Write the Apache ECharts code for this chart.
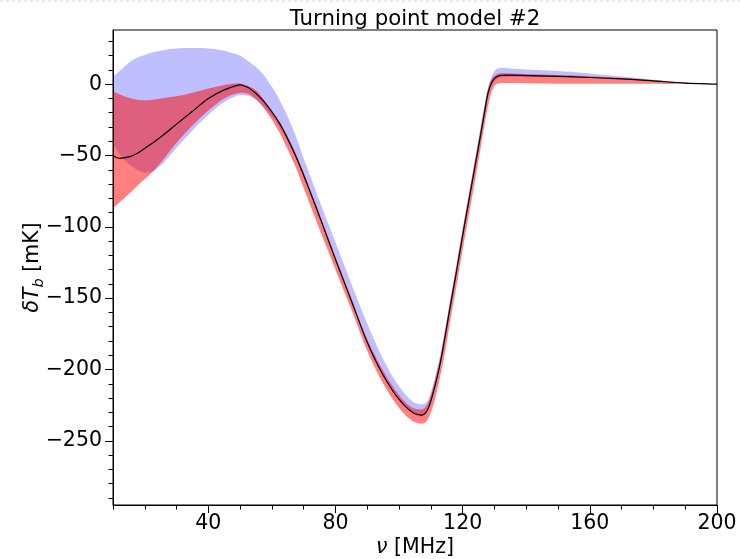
<!DOCTYPE html>
<html>
<head>
<meta charset="utf-8">
<script src="https://cdn.jsdelivr.net/npm/echarts@6/dist/echarts.min.js"></script>
<style>html,body{margin:0;padding:0;background:#fff;}#c{width:740px;height:559px;}</style>
</head>
<body>
<div id="c"></div>
<script>
const titleText = 'Turning point model #2';
const freq = [10,12,15,18,20,22,25,30,35,40,45,48,50,52,55,57,60,62.4,65,67.6,70,75,80,85,90,95,100,103,105,107,108,109,110,111,112,113,114,116,118,120,122,124,126,127,128,129,130,131,132,135,140,150,160,170,180,190,200];
const blueUpper = [5,9,15,19,20.5,22,23.5,25,25.3,25,23.5,21.5,20,17,12,7.5,-2,-11,-23,-37,-52,-82,-111,-140,-168,-193,-212,-220,-223.5,-224.5,-224,-222,-216,-208,-199,-189,-177,-152,-127,-101,-76,-51,-25,-13,-2,5,9,11,11.5,11,10.3,9.2,7.5,5.4,3.2,1.2,0];
const blueLower = [-42,-49,-56,-60.5,-62,-61.5,-57,-44.5,-32.5,-21.5,-12.5,-9,-7.5,-8,-11,-15,-22.5,-30,-40,-52,-65,-93,-123,-152,-181,-204,-221,-228,-231.5,-233,-232,-229,-223,-215,-206,-196,-185,-159,-134,-108,-83,-58,-33,-20,-8,-1.5,2.5,4.2,5,5.3,5.3,5,4.3,3.4,2,0.6,0];
const redUpper = [-5,-7,-9.5,-11,-11.2,-11,-10,-8.5,-6,-3,-0.5,0.5,0.5,-0.8,-4.5,-9.5,-18.5,-26.5,-37,-49,-62,-91,-121,-150,-179,-201,-218,-225,-227.5,-228,-227,-224,-218,-210,-201,-191,-179,-153,-128,-102,-77,-52,-27,-14,-3,3,6,7.2,7.6,7.5,7.2,6.5,5.6,4.3,2.7,1,0];
const redLower = [-87,-83,-77,-70.5,-66.5,-62.5,-55,-41,-29,-18.5,-10,-7,-6,-6.5,-10.5,-15.5,-25,-34,-46,-59,-73,-102,-130,-158,-187,-210,-227,-234,-237,-238,-237.5,-235,-230,-223,-214,-204,-193,-167,-142,-116,-91,-66,-40,-27,-15,-6,-1,0.5,0.8,0.8,0.6,0.4,0.4,0.4,0.3,0.1,0];
const model = [-50,-52,-51,-48,-45,-42,-37,-28,-19,-10,-4,-1.5,-0.5,-1.8,-6.5,-11,-19.5,-27.5,-38.5,-51,-64,-93,-123,-152,-181,-204,-221,-228,-231,-232,-231,-228,-222,-214,-205,-195,-183,-157,-132,-106,-81,-56,-31,-18,-6,0.5,4,5.5,6.2,6.3,6.0,5.5,4.7,3.7,2.3,0.8,0];
const xMajorTicks = [40,80,120,160,200];
const xMinorTicks = [10,20,30,50,60,70,90,100,110,130,140,150,170,180,190];
const yMajorTicks = [-250,-200,-150,-100,-50,0];
const yMinorTicks = [-290,-280,-270,-260,-240,-230,-220,-210,-190,-180,-170,-160,-140,-130,-120,-110,-90,-80,-70,-60,-40,-30,-20,-10,10,20,30];

const FF = 'DejaVu Sans';
const FS = 20.5;
const minus = v => (v < 0 ? '\u2212' + Math.abs(v) : String(v));

// Monotone cubic (Fritsch-Carlson) path through pixel points (x increasing)
function monoSegs(pts) {
  const n = pts.length;
  const d = [], m = new Array(n);
  for (let i = 0; i < n - 1; i++) {
    const dx = pts[i + 1][0] - pts[i][0];
    d.push(dx === 0 ? 0 : (pts[i + 1][1] - pts[i][1]) / dx);
  }
  m[0] = d[0]; m[n - 1] = d[n - 2];
  for (let i = 1; i < n - 1; i++) {
    if (d[i - 1] * d[i] <= 0) m[i] = 0;
    else {
      const h0 = pts[i][0] - pts[i - 1][0], h1 = pts[i + 1][0] - pts[i][0];
      const w1 = 2 * h1 + h0, w2 = h1 + 2 * h0;
      m[i] = (w1 + w2) / (w1 / d[i - 1] + w2 / d[i]);
    }
  }
  const segs = [];
  for (let i = 0; i < n - 1; i++) {
    const h = pts[i + 1][0] - pts[i][0];
    segs.push([
      [pts[i][0] + h / 3, pts[i][1] + m[i] * h / 3],
      [pts[i + 1][0] - h / 3, pts[i + 1][1] - m[i + 1] * h / 3],
      pts[i + 1]
    ]);
  }
  return segs;
}
const f = v => v.toFixed(2);
function pathForward(pts, start) {
  let s = (start ? 'M' : 'L') + f(pts[0][0]) + ' ' + f(pts[0][1]);
  monoSegs(pts).forEach(sg => { s += ' C' + f(sg[0][0]) + ' ' + f(sg[0][1]) + ' ' + f(sg[1][0]) + ' ' + f(sg[1][1]) + ' ' + f(sg[2][0]) + ' ' + f(sg[2][1]); });
  return s;
}
function pathBackward(pts) {
  const segs = monoSegs(pts);
  const n = pts.length;
  let s = 'L' + f(pts[n - 1][0]) + ' ' + f(pts[n - 1][1]);
  for (let i = segs.length - 1; i >= 0; i--) {
    const sg = segs[i];
    s += ' C' + f(sg[1][0]) + ' ' + f(sg[1][1]) + ' ' + f(sg[0][0]) + ' ' + f(sg[0][1]) + ' ' + f(pts[i][0]) + ' ' + f(pts[i][1]);
  }
  return s;
}

function bandSeries(name, lo, hi, color, z) {
  return {
    type: 'custom', name: name, z: z, clip: true, silent: true,
    data: freq.map((x, i) => [x, lo[i], hi[i]]),
    encode: {x: 0, y: [1, 2]},
    renderItem: function (params, api) {
      if (params.dataIndex !== 0) return null;
      const n = params.dataInsideLength;
      const up = [], dn = [];
      for (let i = 0; i < n; i++) {
        const x = api.value(0, i);
        up.push(api.coord([x, api.value(2, i)]));
        dn.push(api.coord([x, api.value(1, i)]));
      }
      const pathData = pathForward(up, true) + ' ' + pathBackward(dn) + ' Z';
      return {type: 'path', shape: {pathData: pathData}, style: {fill: color, stroke: null}};
    }
  };
}

const chart = echarts.init(document.getElementById('c'), null, {renderer: 'canvas'});
chart.setOption({
  animation: false,
  backgroundColor: '#fff',
  grid: {left: 113, right: 23, top: 30, bottom: 54, containLabel: false, outerBoundsMode: 'none', show: true, borderColor: '#000', borderWidth: 1, backgroundColor: 'transparent', z: 10},
  graphic: [
    {type: 'line', shape: {x1: 0, y1: 1, x2: 740, y2: 1}, style: {stroke: '#d4d4d4', lineWidth: 1, lineDash: [3, 3]}, silent: true},
    {type: 'text', x: 415, y: 9, style: {text: titleText, fill: '#000', font: '21.3px "' + FF + '"', textAlign: 'center', textVerticalAlign: 'top'}}
  ],
  xAxis: [
    {
      type: 'value', min: 10, max: 200, position: 'bottom',
      axisLine: {show: true, onZero: false, lineStyle: {color: '#000', width: 1}},
      axisTick: {show: true, inside: false, length: 8, customValues: xMajorTicks, lineStyle: {color: '#000', width: 1}},
      axisLabel: {customValues: xMajorTicks, color: '#000', fontSize: FS, fontFamily: FF, margin: 8, formatter: minus},
      splitLine: {show: false},
      name: '{i|\u03BD}{n| [MHz]}', nameLocation: 'middle', nameGap: 32, nameMoveOverlap: false,
      nameTextStyle: {color: '#000', fontFamily: FF, fontSize: FS, verticalAlign: 'top',
        rich: {i: {fontStyle: 'italic', fontFamily: FF, fontSize: FS, color: '#000'}, n: {fontFamily: FF, fontSize: FS, color: '#000'}}}
    },
    {
      type: 'value', min: 10, max: 200, position: 'bottom',
      axisLine: {show: false, onZero: false},
      axisTick: {show: true, inside: false, length: 4.5, customValues: xMinorTicks, lineStyle: {color: '#000', width: 1}},
      axisLabel: {show: false}, splitLine: {show: false}
    }
  ],
  yAxis: [
    {
      type: 'value', min: -295, max: 38, position: 'left',
      axisLine: {show: true, onZero: false, lineStyle: {color: '#000', width: 1}},
      axisTick: {show: true, inside: false, length: 8, customValues: yMajorTicks, lineStyle: {color: '#000', width: 1}},
      axisLabel: {customValues: yMajorTicks, color: '#000', fontSize: FS, fontFamily: FF, margin: 11, formatter: minus},
      splitLine: {show: false},
      name: '{i|\u03B4T}{s|b}{n| [mK]}', nameLocation: 'middle', nameGap: 66, nameRotate: 90, nameMoveOverlap: false,
      nameTextStyle: {color: '#000', fontFamily: FF, fontSize: FS,
        rich: {
          i: {fontStyle: 'italic', fontFamily: FF, fontSize: FS, color: '#000', lineHeight: 28, verticalAlign: 'middle'},
          s: {fontStyle: 'italic', fontFamily: FF, fontSize: 14.5, color: '#000', lineHeight: 14, verticalAlign: 'bottom'},
          n: {fontFamily: FF, fontSize: FS, color: '#000', lineHeight: 28, verticalAlign: 'middle'}
        }}
    },
    {
      type: 'value', min: -295, max: 38, position: 'left',
      axisLine: {show: false, onZero: false},
      axisTick: {show: true, inside: false, length: 4.5, customValues: yMinorTicks, lineStyle: {color: '#000', width: 1}},
      axisLabel: {show: false}, splitLine: {show: false}
    }
  ],
  series: [
    bandSeries('blue band', blueLower, blueUpper, 'rgba(0,0,255,0.25)', 1),
    bandSeries('red band', redLower, redUpper, 'rgba(255,0,0,0.5)', 2),
    {
      type: 'custom', name: 'model', z: 3, clip: true, silent: true,
      data: freq.map((x, i) => [x, model[i]]),
      encode: {x: 0, y: 1},
      renderItem: function (params, api) {
        if (params.dataIndex !== 0) return null;
        const n = params.dataInsideLength;
        const pts = [];
        for (let i = 0; i < n; i++) pts.push(api.coord([api.value(0, i), api.value(1, i)]));
        return {type: 'path', shape: {pathData: pathForward(pts, true)}, style: {fill: null, stroke: '#000', lineWidth: 1.2}};
      }
    }
  ]
});
</script>
</body>
</html>
